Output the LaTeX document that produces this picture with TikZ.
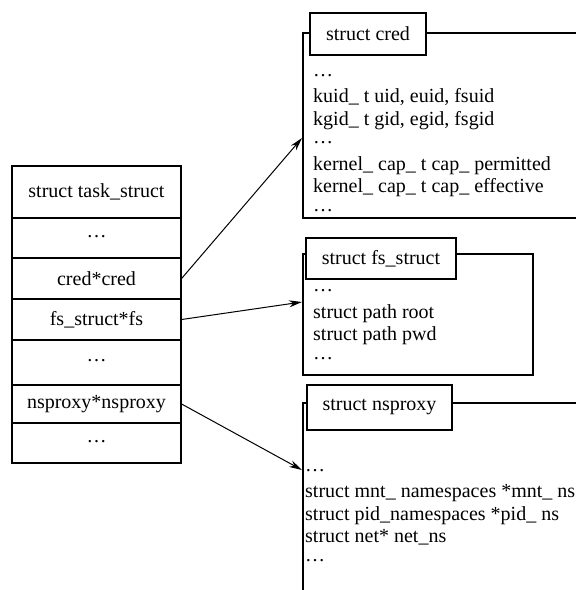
\documentclass[tikz,border=0pt]{standalone}
\usepackage{fontspec}
\setmainfont{Liberation Serif}
\usetikzlibrary{arrows.meta}
\newcommand{\elide}{\raisebox{0.18em}{\char"2026}}

\begin{document}
\begin{tikzpicture}[x=1pt,y=-1pt,font=\fontsize{20}{22.5}\selectfont]
\tikzstyle{Row}=[draw, line width=1.2pt, minimum width=169pt, inner sep=0pt];
\tikzstyle{Frame}=[draw, line width=1.6pt, inner sep=0pt];
\tikzstyle{Title}=[draw, line width=1.6pt, fill=white, inner sep=0pt];
\tikzstyle{Body}=[anchor=base west, align=left, inner sep=0pt];
\tikzstyle{ptr}=[-{Stealth[length=13pt,width=7pt]}, line width=1pt];
\useasboundingbox (0,0) rectangle (576,590);
% task_struct
\node [Row,minimum height=52pt] (task) at (96.5,192) {struct task\_struct};
\node [Row,minimum height=40pt] (dots1) at (96.5,238) {\elide};
\node [Row,minimum height=41pt] (cred) at (96.5,278.5) {cred*cred};
\node [Row,minimum height=41pt] (fs) at (96.5,319.5) {fs\_struct*fs};
\node [Row,minimum height=45pt] (dots2) at (96.5,362.5) {\elide};
\node [Row,minimum height=38pt] (nsp) at (96.5,404) {nsproxy*nsproxy};
\node [Row,minimum height=40pt] (dots3) at (96.5,443) {\elide};
% struct cred (base = last line)
\node [Frame,minimum width=300pt,minimum height=185pt] (credbox) at (453,125.5) {};
\node [Title,minimum width=116pt,minimum height=42pt] (credhead) at (368,34) {struct cred};
\node [Body] (credbody) at (313,215) {\elide\\
kuid\_ t uid, euid, fsuid\\
kgid\_ t gid, egid, fsgid\\
\elide\\
kernel\_ cap\_ t cap\_ permitted\\
kernel\_ cap\_ t cap\_ effective\\
\elide};
% struct fs_struct
\node [Frame,minimum width=230pt,minimum height=121pt] (fsbox) at (418,314.5) {};
\node [Title,minimum width=150pt,minimum height=41pt] (fshead) at (381,258.5) {struct fs\_struct};
\node [Body] (fsbody) at (313,363) {\elide\\
struct path root\\
struct path pwd\\
\elide};
% struct nsproxy
\draw [line width=1.6pt] (303,600) |- (600,403);
\node [Title,minimum width=145pt,minimum height=45pt] (nshead) at (379.5,407.5) {struct nsproxy};
\node [Body] (nsbody) at (305,565) {\elide\\
struct mnt\_ namespaces *mnt\_ ns\\
struct pid\_namespaces *pid\_ ns\\
struct net* net\_ns\\
\elide};
% pointers
\coordinate (credin) at (302,138);
\coordinate (fsin) at (302,302);
\coordinate (nsin) at (302,470);
\draw [ptr] (cred.east) -- (credin);
\draw [ptr] (fs.east) -- (fsin);
\draw [ptr] (nsp.east) -- (nsin);
\end{tikzpicture}
\end{document}
